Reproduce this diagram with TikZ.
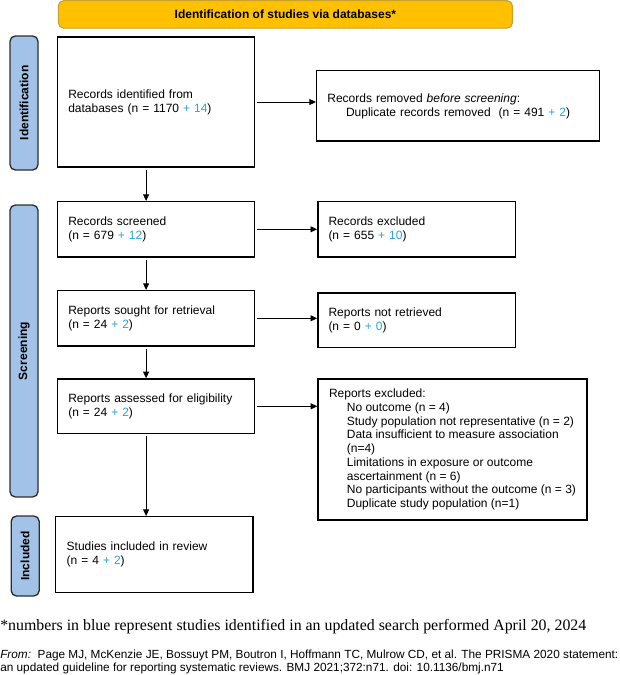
\documentclass[tikz,border=0pt]{standalone}
\usepackage{fontspec}
\setmainfont{Liberation Sans}
\newfontfamily\serifft{Liberation Serif}
\usetikzlibrary{arrows.meta}
\definecolor{bannerfill}{HTML}{FFC000}
\definecolor{bannerline}{HTML}{C8A02A}
\definecolor{sidefill}{HTML}{A3C2E7}
\definecolor{sideline}{HTML}{2E2E2E}
\definecolor{newnum}{HTML}{29A3DB}
\newcommand{\bl}[1]{\textcolor{newnum}{#1}}
\tikzset{
  txt/.style={font=\fontsize{9}{10.5}\selectfont},
  box/.style={txt, draw, line width=1pt, align=left, inner ysep=0pt, anchor=center},
  sidelab/.style={draw=sideline, fill=sidefill, line width=1pt, rounded corners=4pt,
    rotate=90, font=\fontsize{9}{10.5}\selectfont\bfseries, inner sep=0pt, anchor=center},
  arr/.style={-{Triangle[length=5pt,width=4.5pt]}, line width=0.7pt, shorten <=1.5pt}
}
\begin{document}
\begin{tikzpicture}[x=0.75pt,y=-0.75pt]
\useasboundingbox (0,0) rectangle (619,675);
% banner
\node[draw=bannerline, fill=bannerfill, line width=0.8pt, rounded corners=4pt,
  minimum width=340.6pt, minimum height=20.6pt, inner sep=0pt,
  font=\fontsize{9}{10.5}\selectfont\bfseries] (banner) at (285.4,14.4)
  {Identification of studies via databases*};
% side labels
\node[sidelab, minimum width=100.5pt, minimum height=21pt] (sidA) at (24,103) {Identification};
\node[sidelab, minimum width=219pt, minimum height=21pt] (sidB) at (24,351) {Screening};
\node[sidelab, minimum width=60pt, minimum height=21pt] (sidC) at (25.2,556) {Included};
% boxes
\node[box, minimum width=147.75pt, minimum height=97.5pt, text width=131.75pt, inner xsep=8pt] (b1) at (156.1,102)
  {Records identified from\\databases (n = 1170 \bl{+ 14})\\[12pt]};
\node[box, minimum width=212pt, minimum height=52.7pt, text width=196pt, inner xsep=8pt] (b2) at (458,105.9)
  {Records removed \textit{before screening}:\\\hspace*{14pt}Duplicate records removed\ \ (n = 491 \bl{+ 2})\\[16pt]};
\node[box, minimum width=147.75pt, minimum height=41.5pt, text width=131.75pt, inner xsep=8pt] (b3) at (156.1,229.3)
  {Records screened\\(n = 679 \bl{+ 12})};
\node[box, minimum width=148pt, minimum height=41.5pt, text width=132pt, inner xsep=8pt] (b4) at (416.5,229.3)
  {Records excluded\\(n = 655 \bl{+ 10})};
\node[box, minimum width=147.75pt, minimum height=41.5pt, text width=131.75pt, inner xsep=8pt] (b5) at (156.1,318.3)
  {Reports sought for retrieval\\(n = 24 \bl{+ 2})};
\node[box, minimum width=148pt, minimum height=41pt, text width=132pt, inner xsep=8pt] (b6) at (416.5,320.3)
  {Reports not retrieved\\(n = 0 \bl{+ 0})};
\node[box, minimum width=147.75pt, minimum height=41pt, text width=131.75pt, inner xsep=8pt] (b7) at (156.1,406.3)
  {Reports assessed for eligibility\\(n = 24 \bl{+ 2})};
\node[box, minimum width=201.75pt, minimum height=105.75pt, inner xsep=0pt,
  font=\fontsize{9}{10.3}\selectfont] (b8) at (452.5,449.5)
  {Reports excluded:\\
   \hspace*{13.4pt}No outcome (n = 4)\\
   \hspace*{13.4pt}Study population not representative (n = 2)\\
   \hspace*{13.4pt}Data insufficient to measure association\\
   \hspace*{13.4pt}(n=4)\\
   \hspace*{13.4pt}Limitations in exposure or outcome\\
   \hspace*{13.4pt}ascertainment (n = 6)\\
   \hspace*{13.4pt}No participants without the outcome (n = 3)\\
   \hspace*{13.4pt}Duplicate study population (n=1)};
\node[box, minimum width=148.3pt, minimum height=57pt, text width=131.3pt, inner xsep=8.5pt] (b9) at (154.2,554.7)
  {Studies included in review\\(n = 4 \bl{+ 2})\\[8pt]};
% arrows
\draw[arr] (b1.east) -- (b1.east -| b2.west);
\draw[arr] (b3.east) -- (b3.east -| b4.west);
\draw[arr] (b5.east) -- (b5.east -| b6.west);
\draw[arr] (b7.east) -- (b7.east -| b8.west);
\draw[arr] ([xshift=-7.5pt]b1.south) -- ([xshift=-7.5pt]b1.south |- b3.north);
\draw[arr] ([xshift=-7.5pt]b3.south) -- ([xshift=-7.5pt]b3.south |- b5.north);
\draw[arr] ([xshift=-7.5pt]b5.south) -- ([xshift=-7.5pt]b5.south |- b7.north);
\draw[arr] ([xshift=-7.5pt]b7.south) -- ([xshift=-7.5pt]b7.south |- b9.north);
% footnotes
\node[anchor=west, inner sep=0pt, font=\serifft\fontsize{11.9}{13}\selectfont] (fn) at (0,627)
  {*numbers in blue represent studies identified in an updated search performed April 20, 2024};
\node[anchor=west, inner sep=0pt, align=left, font=\fontsize{8.85}{9.75}\selectfont] (src) at (0,662)
  {\textit{From:}\ \ Page MJ, McKenzie JE, Bossuyt PM, Boutron I, Hoffmann TC, Mulrow CD, et al. The PRISMA 2020 statement:\\
   an updated guideline for reporting systematic reviews. BMJ 2021;372:n71. doi: 10.1136/bmj.n71};
\end{tikzpicture}
\end{document}
